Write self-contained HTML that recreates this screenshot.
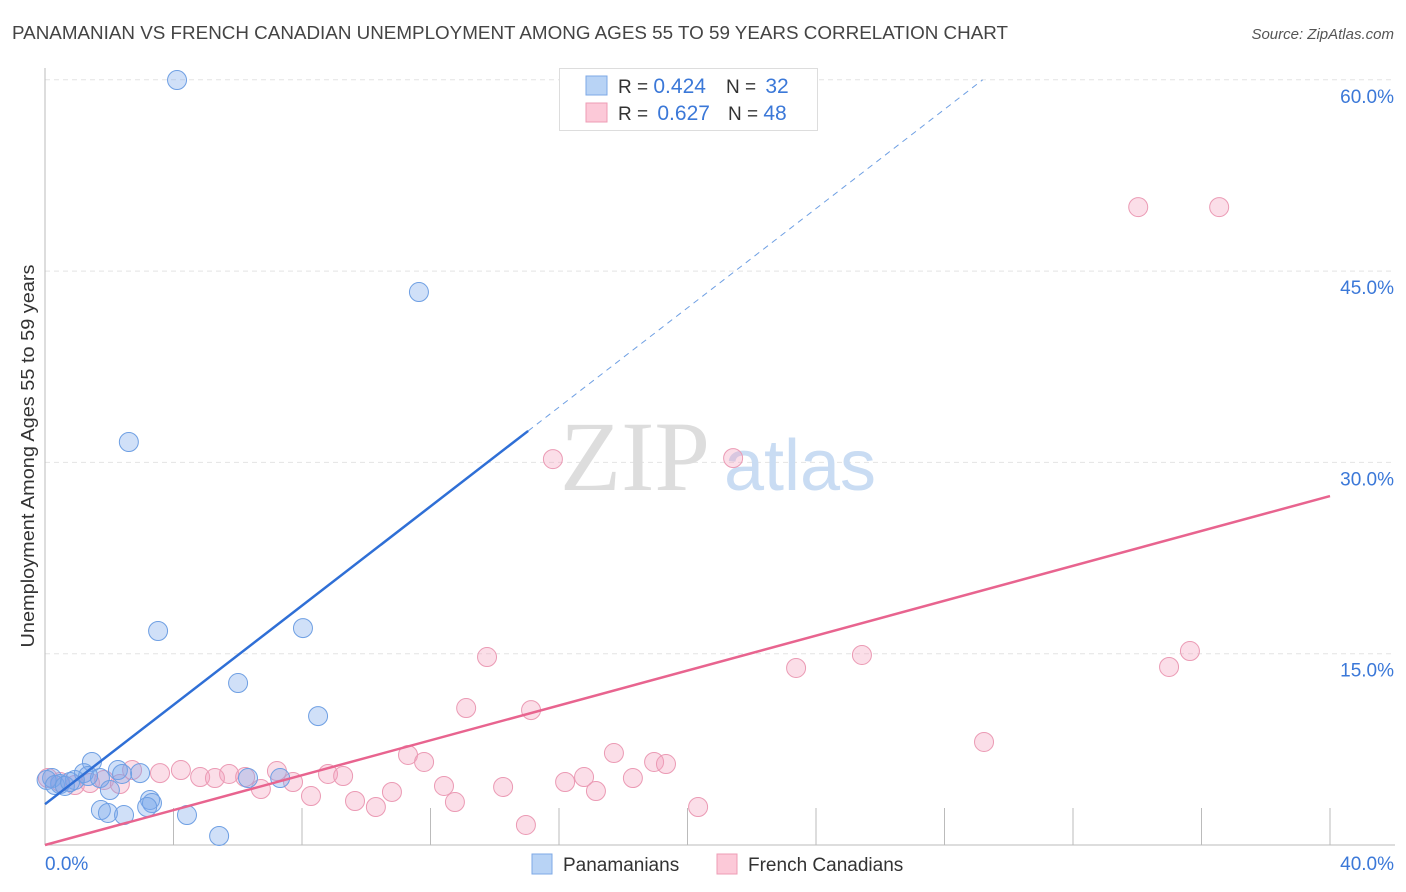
<!DOCTYPE html>
<html><head><meta charset="utf-8"><style>
body{margin:0;background:#fff;font-family:"Liberation Sans",sans-serif;}
svg{display:block}
</style></head><body>
<svg id="chart" width="1406" height="892" xmlns="http://www.w3.org/2000/svg">
<text x="12" y="39" font-size="18" fill="#444" textLength="996" lengthAdjust="spacingAndGlyphs">PANAMANIAN VS FRENCH CANADIAN UNEMPLOYMENT AMONG AGES 55 TO 59 YEARS CORRELATION CHART</text>
<text x="1394" y="39" font-size="15" fill="#555" font-style="italic" text-anchor="end">Source: ZipAtlas.com</text>
<g id="grid"></g>
<g>
<text x="635" y="490" font-size="100" font-family="Liberation Serif,serif" fill="#ddd" text-anchor="middle">ZIP</text>
<text x="800" y="490" font-size="72" fill="#c9dcf3" text-anchor="middle">atlas</text>
</g>
<g id="marks"></g>
<text transform="translate(34,456) rotate(-90)" font-size="18" fill="#333" text-anchor="middle" textLength="383" lengthAdjust="spacingAndGlyphs">Unemployment Among Ages 55 to 59 years</text>
<text x="45" y="870" font-size="19" fill="#3b78d8">0.0%</text>
<text x="1394" y="870" font-size="19" fill="#3b78d8" text-anchor="end">40.0%</text>
<g>
<rect x="559.5" y="68.5" width="258" height="62" fill="#fff" stroke="#ddd"/>
<rect x="586" y="76" width="21" height="19" fill="#b8d3f5" stroke="#7ea8e6"/>
<rect x="586" y="103" width="21" height="19" fill="#fcc9d8" stroke="#ee9cb5"/>
<text x="618" y="93" font-size="19" fill="#333">R = <tspan fill="#3b78d8" font-size="21">0.424</tspan><tspan dx="20">N = </tspan><tspan fill="#3b78d8" font-size="21" dx="4">32</tspan></text>
<text x="618" y="120" font-size="19" fill="#333">R = <tspan fill="#3b78d8" font-size="21" dx="4">0.627</tspan><tspan dx="18">N = </tspan><tspan fill="#3b78d8" font-size="21">48</tspan></text>
</g>
<g>
<rect x="532" y="854" width="20" height="20" fill="#b8d3f5" stroke="#7ea8e6"/>
<text x="563" y="871" font-size="19" fill="#333">Panamanians</text>
<rect x="717" y="854" width="20" height="20" fill="#fcc9d8" stroke="#ee9cb5"/>
<text x="748" y="871" font-size="19" fill="#333">French Canadians</text>
</g>
</svg>
<script>
const yTicks=[15,30,45,60];
const yTickLabels=["15.0%","30.0%","45.0%","60.0%"];
const xTicks=[4,8,12,16,20,24,28,32,36,40];
const blueX=[4.11,11.64,2.61,3.52,8.03,6.01,8.5,1.46,2.27,2.96,1.21,0.22,0.47,0.93,1.71,2.4,6.32,7.32,2.02,3.27,3.33,3.18,1.74,1.96,2.46,4.42,5.42,0.05,0.31,0.62,0.78,1.34];
const blueY=[59.98,43.36,31.6,16.78,17.01,12.7,10.11,6.51,5.88,5.64,5.64,5.25,4.78,5.1,5.25,5.57,5.25,5.25,4.31,3.53,3.29,2.98,2.74,2.51,2.35,2.35,0.71,5.1,4.7,4.63,4.94,5.41];
const pinkX=[34.03,36.55,15.81,21.42,13.76,25.43,35.64,23.38,34.99,13.11,15.13,29.23,17.71,11.3,11.8,18.96,19.33,4.23,2.71,3.58,7.22,8.81,16.78,4.83,5.73,6.23,5.29,9.28,16.19,7.72,1.84,2.33,18.3,12.42,14.26,10.8,17.15,6.72,8.28,9.65,12.76,10.3,20.33,14.97,0.09,0.47,0.93,1.4];
const pinkY=[50.02,50.02,30.26,30.34,14.74,14.9,15.21,13.88,13.96,10.74,10.58,8.08,7.21,7.06,6.51,6.51,6.35,5.88,5.88,5.64,5.8,5.57,5.33,5.33,5.57,5.33,5.25,5.41,4.94,4.94,5.1,4.78,5.25,4.63,4.55,4.16,4.23,4.39,3.84,3.45,3.37,2.98,2.98,1.57,5.25,4.94,4.7,4.86];
const blueTrend=[3.2,1.946];
const pinkTrend=[0.0,0.684];
const NS="http://www.w3.org/2000/svg";
const sx=v=>45+v/40*1285;
const sy=v=>845-v/15*191.3;
function mk(tag,attrs,parent){const e=document.createElementNS(NS,tag);for(const k in attrs)e.setAttribute(k,attrs[k]);parent.appendChild(e);return e;}
const grid=document.getElementById('grid');
yTicks.forEach((t,i)=>{
  const l=mk('line',{x1:45,x2:1395,y1:sy(t),y2:sy(t),stroke:'#e4e4e4','stroke-dasharray':'5,4'},grid);
  
  
  const tx=mk('text',{x:1394,y:sy(t)+23,'font-size':19,fill:'#3b78d8','text-anchor':'end'},grid);
  tx.textContent=yTickLabels[i];
  
  
});
const ax=mk('line',{x1:45,x2:45,y1:68,y2:845,stroke:'#bbb'},grid);


const bx=mk('line',{x1:45,x2:1395,y1:845,y2:845,stroke:'#bbb'},grid);


xTicks.forEach(t=>{
  const l=mk('line',{x1:sx(t),x2:sx(t),y1:808,y2:845,stroke:'#bbb'},grid);
  
  
});
const marks=document.getElementById('marks');
function dots(X,Y,fill,stroke,name){
  X.forEach((x,i)=>{
    const c=mk('circle',{cx:sx(x),cy:sy(Y[i]),r:9.5,fill:fill,stroke:stroke,'stroke-width':1},marks);
    
    
  });
}
dots(pinkX,pinkY,'rgba(244,160,188,0.35)','#eb9ab4','french-canadian-point');
dots(blueX,blueY,'rgba(120,165,235,0.35)','#6e9fe3','panamanian-point');
const bEnd=15.04;
const bl=mk('line',{x1:sx(0),y1:sy(blueTrend[0]),x2:sx(bEnd),y2:sy(blueTrend[0]+blueTrend[1]*bEnd),stroke:'#2f6fd6','stroke-width':2.5},marks);


const xEndD=(60-blueTrend[0])/blueTrend[1];
const bd=mk('line',{x1:sx(bEnd),y1:sy(blueTrend[0]+blueTrend[1]*bEnd),x2:sx(xEndD),y2:sy(60),stroke:'#6e9fe3','stroke-width':1,'stroke-dasharray':'6,5'},marks);


const pl=mk('line',{x1:sx(0),y1:sy(pinkTrend[0]),x2:sx(40),y2:sy(pinkTrend[0]+pinkTrend[1]*40),stroke:'#e8648f','stroke-width':2.5},marks);


</script>
</body></html>
